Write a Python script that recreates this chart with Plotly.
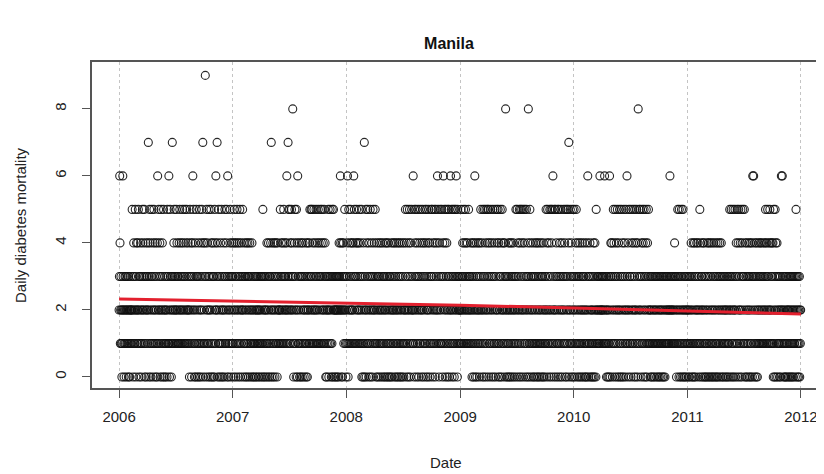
import pandas as pd
import plotly.graph_objects as go

# daily diabetes deaths, one string per month, one digit per day
# (spaces only split the month into 10-day blocks)
DEATHS_2006 = [
    "2364123120 1263210213 21302123120",
    "3120213212 2513024132 15203412",
    "2415203132 4102315243 21503214032",
    "2314720351 4203152314 0251324102",
    "3104612523 1402351204 32150213021",
    "2130521316 1025312031 7231245312",
    "2315241321 3142512314 21352413215",
    "3124152312 4213025134 20314625310",
    "2140352130 3142051320 1425317041",
    "2134903152 4120315230 21540312403",
    "3105241623 2740315201 3142051320",
    "2143025131 4250361203 12453102341",
]
DEATHS_2007 = [
    "3120452314 0231542103 24153021432",
    "2503124130 3214023143 02314201",
    "3124021301 2130213021 32102312013",
    "2130312503 1230213201 4213042130",
    "3142702314 0213420314 21304213122",
    "2153142312 4135213423 1246213725",
    "3152413254 2381302145 31205240613",
    "2140312034 1302413201 23140213042",
    "2134152315 3251421352 1423152314",
    "2153142315 3142513241 25134203102",
    "2315203125 3120315032 5230232023",
    "2302320342 3264203240 23412352130",
]
DEATHS_2008 = [
    "2134610251 3241523142 21436152314",
    "3152413241 2531423150 213041270",
    "3125024135 1204312503 21430251324",
    "2153102413 0231420312 4102314203",
    "1320421304 2130412031 32014203124",
    "2130421302 4120314203 1420312041",
    "3120412253 1402513204 25130421532",
    "2161205342 1530241352 03142513204",
    "2513042135 1402531204 2531402135",
    "3152041325 1402531246 25130421531",
    "2153041632 5140253142 0531250312",
    "6215302153 1205312563 21053213212",
]
DEATHS_2009 = [
    "2315213243 1524132514 23142135213",
    "2314213024 1302416203 14203124",
    "2130421532 1402531205 31425021354",
    "2503142153 0241352013 4152031254",
    "2150413205 3142052134 21403283120",
    "3120413204 2103421302 4132013251",
    "3052143205 1425031524 20531425103",
    "2513024831 0251432013 21403120314",
    "2130412031 4201321403 1230412031",
    "2135204152 3140251325 04152613025",
    "2153042135 1025314203 5124032153",
    "2140531205 3125470213 52140315203",
]
DEATHS_2010 = [
    "2513024153 1204312031 42103214023",
    "3120412031 2041623013 14203120",
    "2130412034 1205213123 21312631223",
    "2312312316 2131203120 2130162034",
    "3142031524 1305213420 51324025130",
    "2153042130 5241320512 6314205213",
    "3150241325 1402351204 25134081253",
    "2153024135 1402531204 35102413512",
    "2130213021 3102132013 2130213102",
    "1302132013 2103210312 03121321312",
    "2131262312 3121321231 4132310213",
    "5213052130 2153021520 31203120312",
]
DEATHS_2011 = [
    "2130213021 3142031204 13042130214",
    "2314203125 1402313204 21403120",
    "3120413204 1302413021 40213042130",
    "2140312043 1203421304 2130213021",
    "3120213021 3102135203 25130215302",
    "2153024135 1042531204 25130425314",
    "3152041302 4130213420 31402134063",
    "2613042130 4120312413 21431243121",
    "3142312453 1243152314 2152413214",
    "3140521035 2403142031 21302130261",
    "2631203120 1302130212 3021302130",
    "2130213021 3120352130 21302130212",
]

# fitted trend, read at the start of each year
TREND_DATES = ["2006-01-01", "2007-01-01", "2008-01-01", "2009-01-01",
               "2010-01-01", "2011-01-01", "2012-01-01"]
TREND_VALUES = [2.33, 2.27, 2.21, 2.14, 2.06, 1.98, 1.88]

YEAR_TICKS = ["2006-01-01", "2007-01-01", "2008-01-01", "2009-01-01",
              "2010-01-01", "2011-01-01", "2012-01-01"]
YEAR_LABELS = ["2006", "2007", "2008", "2009", "2010", "2011", "2012"]
Y_TICKS = [0, 2, 4, 6, 8]

rows = []
for year, months in [(2006, DEATHS_2006), (2007, DEATHS_2007), (2008, DEATHS_2008),
                     (2009, DEATHS_2009), (2010, DEATHS_2010), (2011, DEATHS_2011)]:
    for m, s in enumerate(months, start=1):
        start = pd.Timestamp(year, m, 1)
        days = pd.date_range(start, start + pd.offsets.MonthEnd(0))
        for d, v in zip(days, s.replace(" ", "")):
            rows.append((d, int(v)))
df = pd.DataFrame(rows, columns=["date", "deaths"])

FONT = "Liberation Sans, Arial, sans-serif"
AXIS_GREY = "#555555"
# the page body has an 8px margin, so the figure is drawn 8px smaller
W, H, PAD = 816, 466, 8

fig = go.Figure()
fig.add_trace(go.Scatter(
    x=df["date"], y=df["deaths"], mode="markers",
    marker=dict(symbol="circle-open", size=8, color="rgba(15,15,15,0.9)",
                line=dict(width=1.1)),
    hoverinfo="x+y", showlegend=False,
))
fig.add_trace(go.Scatter(
    x=pd.to_datetime(TREND_DATES), y=TREND_VALUES, mode="lines",
    line=dict(color="#e3202e", width=3), showlegend=False,
))

fig.update_layout(
    width=W, height=H,
    margin=dict(l=92 - PAD, r=0, t=62 - PAD, b=86),
    plot_bgcolor="white", paper_bgcolor="white",
    font=dict(family=FONT, size=15, color="#222222"),
    title=dict(text="<b>Manila</b>", x=(449 - PAD) / W, xref="container",
               xanchor="center", y=1 - (43 - PAD) / H, yref="container",
               yanchor="middle", font=dict(size=16, color="#111111"),
               automargin=False),
    xaxis=dict(
        range=["2005-10-06", "2012-03-15"],
        tickvals=pd.to_datetime(YEAR_TICKS), ticktext=YEAR_LABELS,
        ticks="outside", ticklen=8, tickcolor=AXIS_GREY,
        showline=True, mirror=True, linecolor=AXIS_GREY, linewidth=1.5,
        showgrid=True, gridcolor="#c4c4c4", griddash="dot", gridwidth=1,
        zeroline=False, ticklabelstandoff=6, automargin=False,
    ),
    yaxis=dict(
        range=[-0.33, 9.40],
        tickvals=Y_TICKS, tickangle=-90,
        ticks="outside", ticklen=8, tickcolor=AXIS_GREY,
        showline=True, mirror=False, linecolor=AXIS_GREY, linewidth=1.5,
        showgrid=False, zeroline=False, ticklabelstandoff=10, automargin=False,
    ),
    annotations=[
        dict(text="Date", xref="paper", yref="paper",
             x=(446 - 92) / 732, y=(388 - 462) / 326,
             xanchor="center", yanchor="middle", showarrow=False),
        dict(text="Daily diabetes mortality", xref="paper", yref="paper",
             x=(20 - 92) / 732, y=0.5, textangle=-90,
             xanchor="center", yanchor="middle", showarrow=False),
    ],
)

fig.write_html("out.html")
